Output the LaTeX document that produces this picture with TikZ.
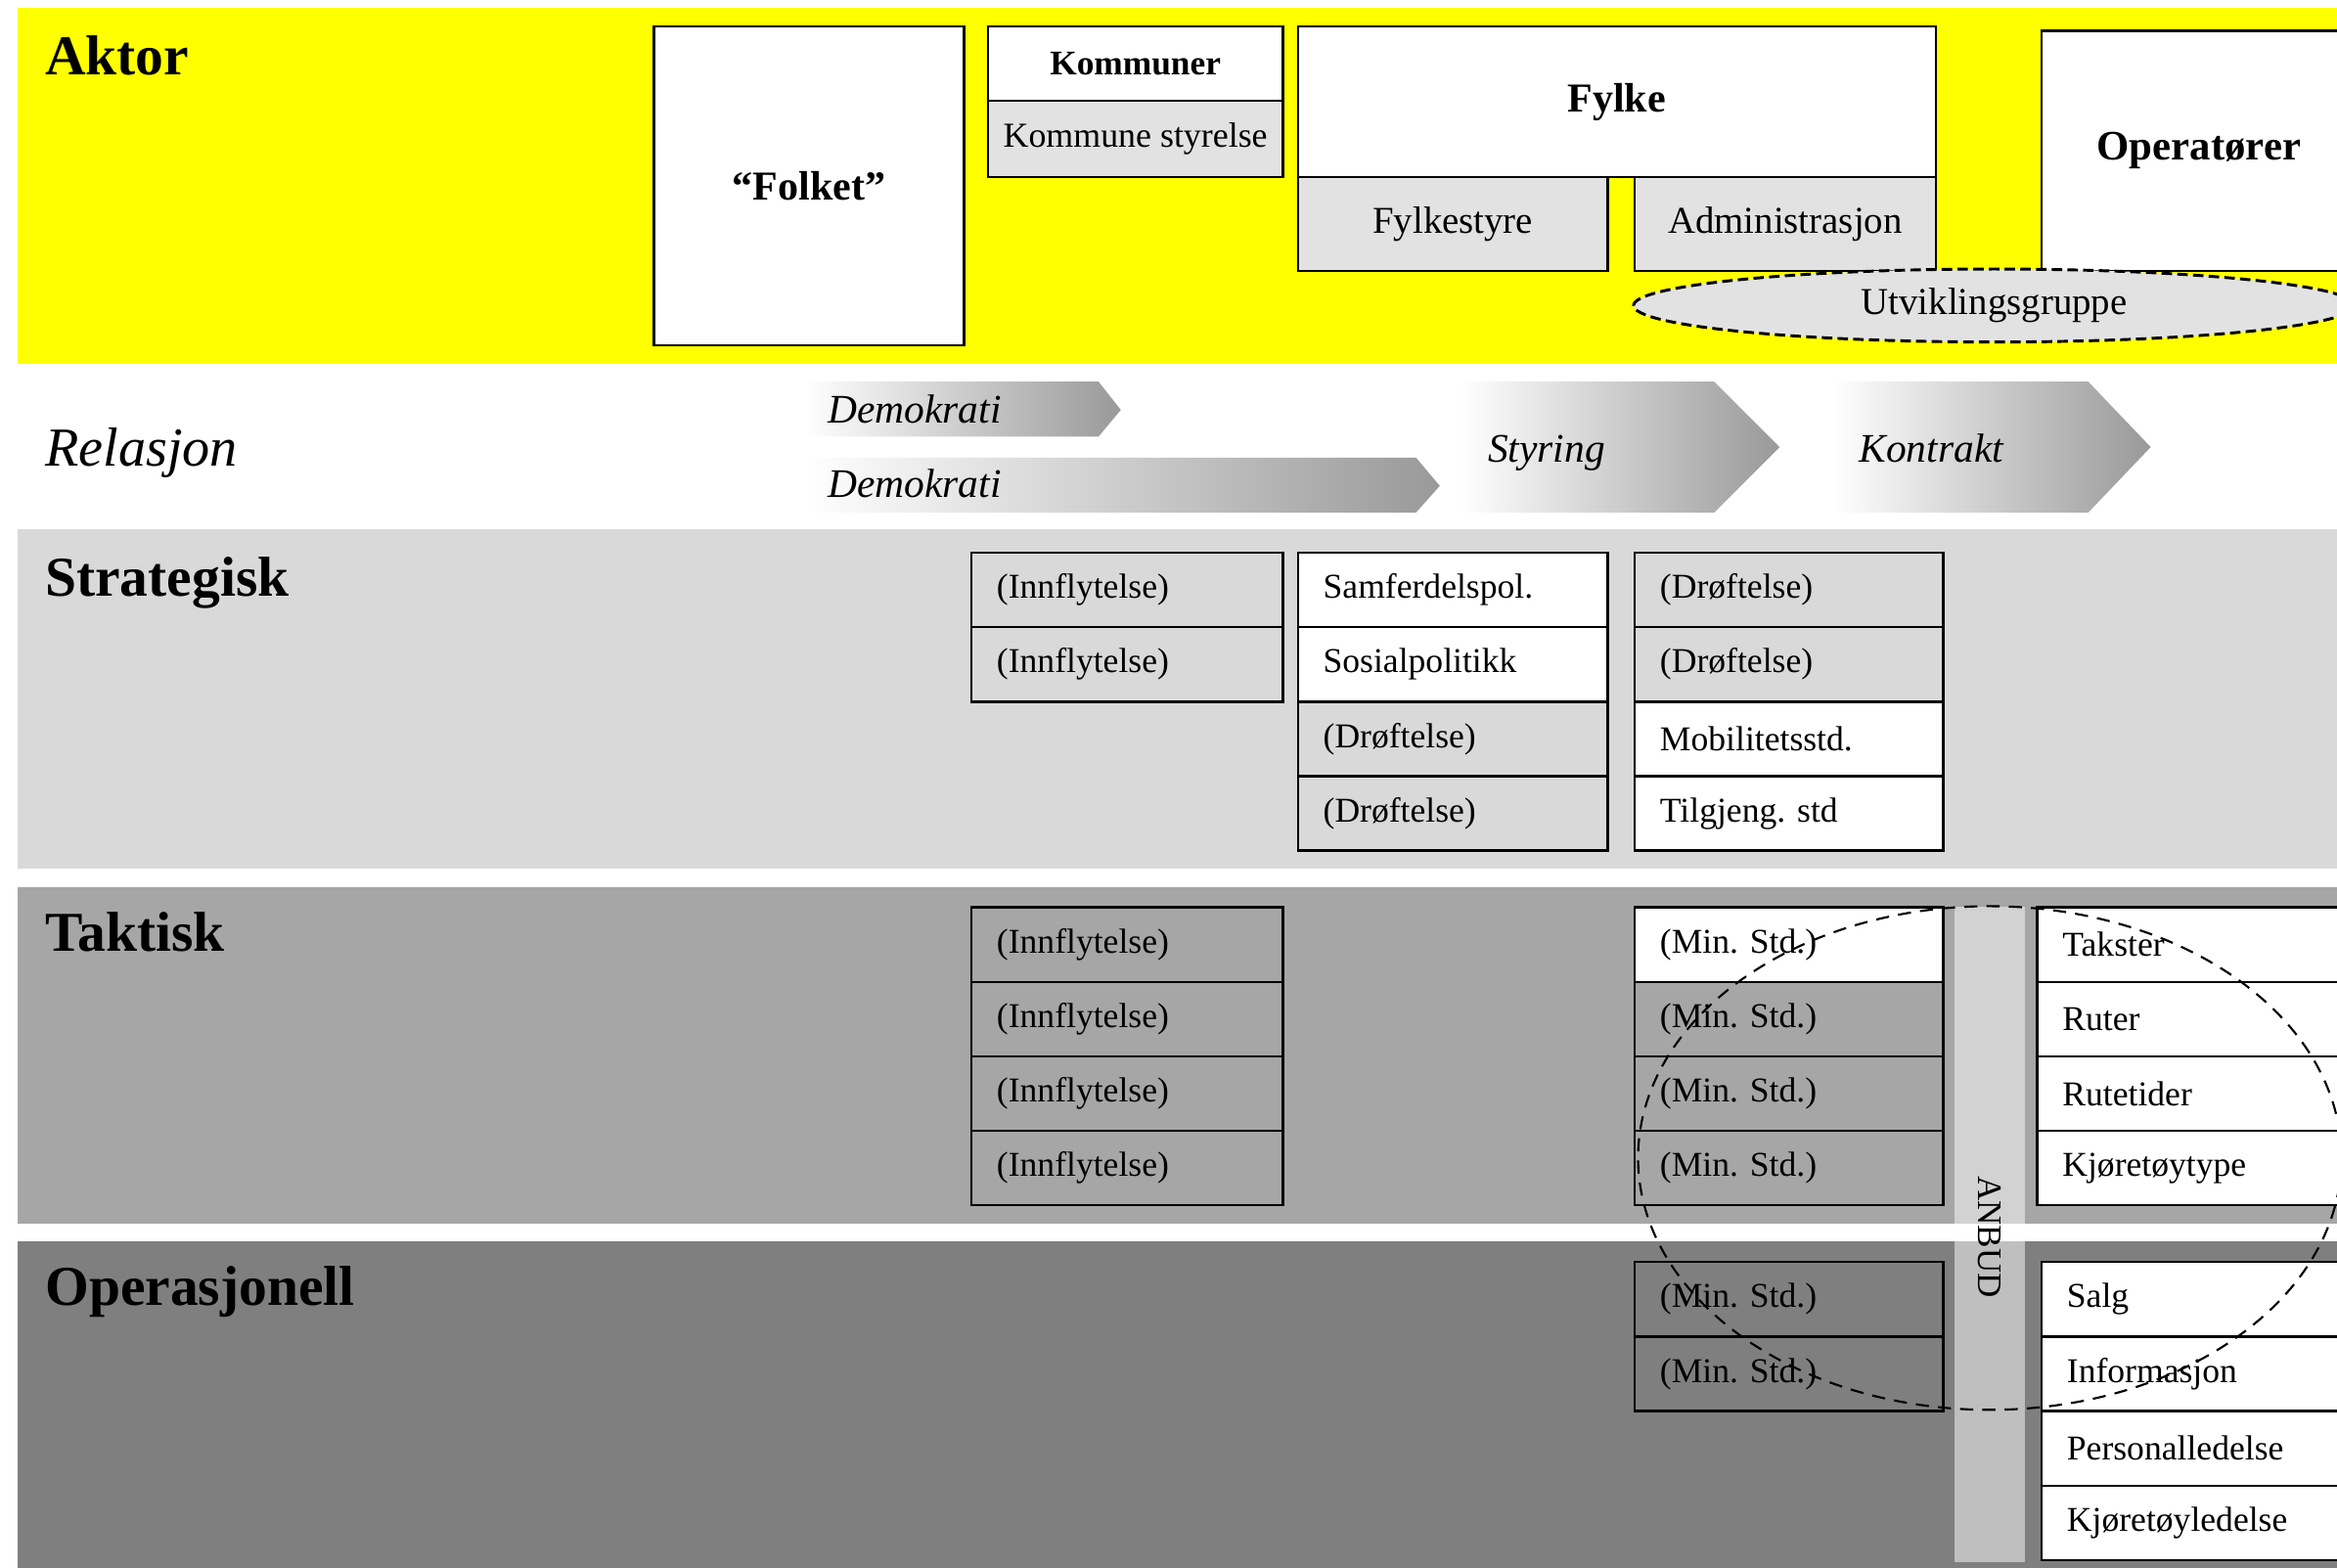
\documentclass[tikz,border=0pt]{standalone}
\usepackage{fontspec}
\setmainfont{Liberation Serif}
\usetikzlibrary{shapes.geometric}
\definecolor{ayellow}{HTML}{FFFF00}
\definecolor{boxgray}{HTML}{E2E2E2}
\definecolor{strat}{HTML}{D9D9D9}
\definecolor{takt}{HTML}{A6A6A6}
\definecolor{oper}{HTML}{7F7F7F}
\definecolor{arrowgray}{HTML}{999999}
\frenchspacing
\begin{document}
\begin{tikzpicture}[x=0.02cm,y=-0.02cm,
  hdr/.style={font=\fontsize{21.5}{24}\selectfont\bfseries, anchor=base west, inner sep=0pt},
  reltext/.style={font=\fontsize{15.5}{18}\selectfont\itshape, anchor=base west, inner sep=0pt},
  cell/.style={draw, line width=0.9pt, anchor=north west, inner xsep=0.34cm, inner ysep=0pt,
     minimum height=1cm, align=left, font=\fontsize{13.3}{15}\selectfont},
  colA/.style={cell, text width=3.5cm},
  colB/.style={cell, text width=3.48cm},
  colC/.style={cell, text width=3.46cm},
  colD/.style={cell, text width=3.6cm},
  wcell/.style={fill=white},
  actor/.style={draw, line width=0.9pt, anchor=north west, inner sep=0pt, align=center},
  chev/.style={left color=white, right color=arrowgray}
]
\useasboundingbox (0,0) rectangle (1568,1052);
\clip (0,0) rectangle (1568,1052);
% bands
\fill[ayellow] (12,5) rectangle (1600,244);
\fill[strat] (12,355) rectangle (1600,583);
\fill[takt] (12,595) rectangle (1600,821);
\fill[oper] (12,833) rectangle (1600,1060);
% band labels
\node[hdr] (aktor) at (30,50) {Aktor};
\node[font=\fontsize{21}{24}\selectfont\itshape, anchor=base west, inner sep=0pt] (relasjon) at (30,313) {Relasjon};
\node[hdr] (strategisk) at (30,400) {Strategisk};
\node[hdr] (taktisk) at (30,638) {Taktisk};
\node[hdr] (operasjonell) at (30,876) {Operasjonell};
% actors
\node[actor, fill=white, minimum width=4.16cm, minimum height=4.28cm,
  font=\fontsize{15.7}{18}\selectfont\bfseries] (folket) at (438,17) {“Folket”};
\node[actor, fill=white, minimum width=3.96cm, minimum height=1.0cm,
  font=\fontsize{13.2}{15}\selectfont\bfseries] (kommuner) at (662,17) {Kommuner};
\node[actor, fill=boxgray, minimum width=3.96cm, minimum height=1.02cm,
  font=\fontsize{13.4}{15}\selectfont] (kstyrelse) at (662,67) {Kommune styrelse};
\node[actor, fill=white, minimum width=8.56cm, minimum height=2.02cm,
  font=\fontsize{15.7}{18}\selectfont\bfseries] (fylke) at (870,17) {Fylke};
\node[actor, fill=boxgray, minimum width=4.16cm, minimum height=1.26cm,
  font=\fontsize{14.5}{17}\selectfont] (fylkestyre) at (870,118) {Fylkestyre};
\node[actor, fill=boxgray, minimum width=4.04cm, minimum height=1.26cm,
  font=\fontsize{14.5}{17}\selectfont] (admin) at (1096,118) {Administrasjon};
\node[actor, fill=white, minimum width=4.22cm, minimum height=3.22cm,
  font=\fontsize{16}{18}\selectfont\bfseries] (operatorer) at (1369,20) {Operatører};
\node[ellipse, draw, dash pattern=on 4pt off 2pt, line width=1.1pt, fill=boxgray, minimum width=9.68cm, minimum height=0.98cm,
  inner sep=0pt, font=\fontsize{14.5}{17}\selectfont] (utvikling) at (1338,205) {Utviklingsgruppe};
% relation chevrons
\shade[chev] (540,256) -- (737,256) -- (752,275) -- (737,293) -- (540,293) -- cycle;
\shade[chev] (540,307) -- (950,307) -- (966,326) -- (950,344) -- (540,344) -- cycle;
\shade[chev] (980,256) -- (1150,256) -- (1194,300) -- (1150,344) -- (980,344) -- cycle;
\shade[chev] (1230,256) -- (1401,256) -- (1443,300) -- (1401,344) -- (1230,344) -- cycle;
\node[reltext] (dem1) at (555,284) {Demokrati};
\node[reltext] (dem2) at (555,334) {Demokrati};
\node[reltext] (styring) at (998,310) {Styring};
\node[reltext] (kontrakt) at (1247,310) {Kontrakt};
% ANBUD strip
\node[anchor=north west, minimum width=0.94cm, minimum height=8.8cm, inner sep=0pt,
  fill=white, fill opacity=0.5] (anbudstrip) at (1311,608) {};
\node[rotate=-90, font=\fontsize{13.1}{15}\selectfont] (anbud) at (1335,830) {ANBUD};
% strategisk
\node[colA] (sa1) at (651,370) {(Innflytelse)};
\node[colA] (sa2) at (651,420) {(Innflytelse)};
\node[colB, wcell] (sb1) at (870,370) {Samferdelspol.};
\node[colB, wcell] (sb2) at (870,420) {Sosialpolitikk};
\node[colB] (sb3) at (870,470) {(Drøftelse)};
\node[colB] (sb4) at (870,520) {(Drøftelse)};
\node[colC] (sc1) at (1096,370) {(Drøftelse)};
\node[colC] (sc2) at (1096,420) {(Drøftelse)};
\node[colC, wcell] (sc3) at (1096,470) {Mobilitetsstd.};
\node[colC, wcell] (sc4) at (1096,520) {Tilgjeng. std};
% taktisk
\node[colA] (ta1) at (651,608) {(Innflytelse)};
\node[colA] (ta2) at (651,658) {(Innflytelse)};
\node[colA] (ta3) at (651,708) {(Innflytelse)};
\node[colA] (ta4) at (651,758) {(Innflytelse)};
\node[colC, wcell] (tc1) at (1096,608) {(Min. Std.)};
\node[colC] (tc2) at (1096,658) {(Min. Std.)};
\node[colC] (tc3) at (1096,708) {(Min. Std.)};
\node[colC] (tc4) at (1096,758) {(Min. Std.)};
\node[colD, wcell] (td1) at (1366,608) {Takster};
\node[colD, wcell] (td2) at (1366,658) {Ruter};
\node[colD, wcell] (td3) at (1366,708) {Rutetider};
\node[colD, wcell] (td4) at (1366,758) {Kjøretøytype};
% operasjonell
\node[colC] (oc1) at (1096,846) {(Min. Std.)};
\node[colC] (oc2) at (1096,896) {(Min. Std.)};
\node[colD, wcell] (od1) at (1369,846) {Salg};
\node[colD, wcell] (od2) at (1369,896) {Informasjon};
\node[colD, wcell] (od3) at (1369,946) {Personalledelse};
\node[colD, wcell] (od4) at (1369,996) {Kjøretøyledelse};
% dashed ring
\node[ellipse, draw, line width=0.8pt, dash pattern=on 5pt off 3.5pt, minimum width=9.44cm,
  minimum height=6.76cm, inner sep=0pt] (ring) at (1335,777) {};
\end{tikzpicture}
\end{document}
